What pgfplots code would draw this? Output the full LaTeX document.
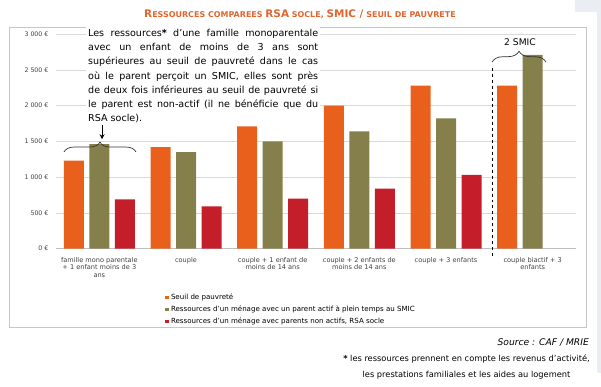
\documentclass[border=0pt]{standalone}
\usepackage{fontspec}
\setmainfont{DejaVu Sans}
\usepackage{pgfplots}
\pgfplotsset{compat=1.18}
\usetikzlibrary{decorations.pathreplacing,arrows.meta,calc}
\definecolor{corange}{HTML}{E8601C}
\definecolor{colive}{HTML}{857F4C}
\definecolor{cred}{HTML}{C41E2A}
\definecolor{ctitle}{HTML}{E0652E}
\definecolor{cstrip}{HTML}{EAEEF3}
\begin{document}
\begin{tikzpicture}
\begin{axis}[
  name=ax, scale only axis,
  width=520bp, height=214.7bp,
  xmin=-0.5, xmax=5.5, ymin=0, ymax=3000,
  ybar=5.5bp, bar width=20bp,
  axis x line*=bottom, axis y line*=left,
  y axis line style={draw=none},
  x axis line style={gray!50, line width=0.6bp},
  major tick length=0pt,
  ymajorgrids, grid style={gray!30, line width=0.5bp},
  clip=false,
  ytick={0,500,1000,1500,2000,2500,3000},
  yticklabels={0 €,500 €,1 000 €,1 500 €,2 000 €,2 500 €,3 000 €},
  yticklabel style={font=\fontsize{6.3}{7}\selectfont, text=black!75, xshift=-4bp},
  xtick={0,1,2,3,4,5},
  xticklabels={{famille mono parentale\\+ 1 enfant moins de 3\\ans},{couple},{couple + 1 enfant de\\moins de 14 ans},{couple + 2 enfants de\\moins de 14 ans},{couple + 3 enfants},{couple biactif + 3\\enfants}},
  xticklabel style={font=\fontsize{6.6}{7.6}\selectfont, align=center, text=black!75, yshift=-5bp},
  legend style={at={(0.21,-0.2)}, anchor=north west, draw=none, fill=none,
    font=\fontsize{7.1}{8}\selectfont, row sep=1bp, inner sep=0pt,
    nodes={inner xsep=2bp}},
  legend cell align=left,
  legend image code/.code={\fill[#1] (0bp,-1.8bp) rectangle (3.6bp,1.8bp);},
]
\addplot[fill=corange, draw=none] coordinates {(0,1230) (1,1420) (2,1710) (3,2000) (4,2280) (5,2280)};
\addlegendentry{Seuil de pauvreté}
\addplot[fill=colive, draw=none] coordinates {(0,1460) (1,1350) (2,1500) (3,1640) (4,1820) (5,2710)};
\addlegendentry{Ressources d’un ménage avec un parent actif à plein temps au SMIC}
\addplot[fill=cred, draw=none] coordinates {(0,690) (1,590) (2,700) (3,840) (4,1030)};
\addlegendentry{Ressources d’un ménage avec parents non actifs, RSA socle}
\coordinate (O) at (axis cs:-0.5,0);
\draw[black, dashed, line width=0.7bp] (axis cs:4.531,2525) -- (axis cs:4.531,-116);
\draw[black!80, line width=0.7bp, decorate, decoration={brace, amplitude=11bp}] (axis cs:4.531,2606) -- (axis cs:5.154,2606);
\node[font=\fontsize{9.2}{11}\selectfont, fill=none] at (axis cs:4.854,2890) {2 SMIC};
\draw[black!80, line width=0.7bp, decorate, decoration={brace, amplitude=10bp}] (axis cs:-0.408,1351) -- (axis cs:0.423,1351);
\draw[black, line width=1bp, -{Stealth[length=5bp,width=5bp]}] (axis cs:0.031,1740) -- (axis cs:0.031,1530);
\end{axis}
\begin{scope}[x=1bp, y=1bp, shift={($(O)-(56bp,137.3bp)$)}]
\fill[cstrip] (575,374) rectangle (601,386);
\fill[cstrip] (597,13) rectangle (601,374);
\draw[gray!45, line width=0.6bp] (9,359) rectangle (586,59);
\node[font=\bfseries, text=ctitle, inner sep=0pt] at (300,372)
  {{\fontsize{10.5}{12}\selectfont R}{\fontsize{8}{10}\selectfont ESSOURCES COMPAREES }{\fontsize{10.5}{12}\selectfont RSA}{\fontsize{8}{10}\selectfont{} SOCLE, }{\fontsize{10.5}{12}\selectfont SMIC /}{\fontsize{8}{10}\selectfont{} SEUIL DE PAUVRETE}};
\node[anchor=north west, fill=white, inner sep=2bp, font=\fontsize{9.6}{14.3}\selectfont, align=left] at (86,359) {%
\makebox[230bp][s]{Les ressources\textbf{*} d’une famille monoparentale}\\
\makebox[230bp][s]{avec un enfant de moins de 3 ans sont}\\
\makebox[230bp][s]{supérieures au seuil de pauvreté dans le cas}\\
\makebox[230bp][s]{où le parent perçoit un SMIC, elles sont près}\\
\makebox[230bp][s]{de deux fois inférieures au seuil de pauvreté si}\\
\makebox[230bp][s]{le parent est non-actif (il ne bénéficie que du}\\
RSA socle).};
\node[anchor=base east, font=\itshape\fontsize{9.2}{11}\selectfont, inner sep=0pt] at (589,41) {Source : CAF / MRIE};
\node[anchor=north east, align=center, font=\fontsize{8.3}{16}\selectfont, inner sep=0pt] at (590,31.5) {\textbf{*} les ressources prennent en compte les revenus d’activité,\\les prestations familiales et les aides au logement};
\pgfresetboundingbox
\path[use as bounding box] (0,0) rectangle (601,386);
\end{scope}
\end{tikzpicture}
\end{document}
